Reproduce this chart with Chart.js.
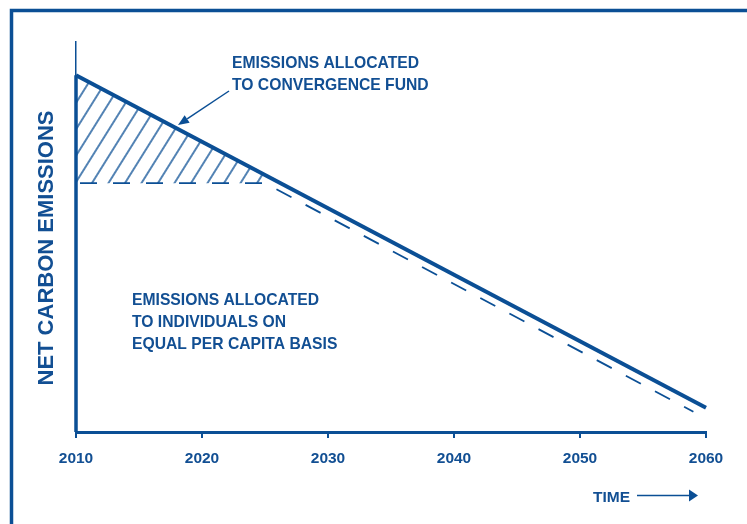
<!DOCTYPE html>
<html><head><meta charset="utf-8">
<script src="https://cdn.jsdelivr.net/npm/chart.js@4"></script>
<style>html,body{margin:0;padding:0;background:#fff;overflow:hidden}#wrap{width:747px;height:524px;position:relative}</style>
</head><body><div id="wrap"><canvas id="c" width="747" height="524"></canvas></div>
<script>
// ---- data ----
const tickYears = [2010, 2020, 2030, 2040, 2050, 2060];
const tickLabels = ['2010', '2020', '2030', '2040', '2050', '2060'];
const totalYears = [2010, 2060];
const totalEmissions = [91.5, 6.2];
const perCapitaYears = [2010, 2025, 2059];
const perCapitaEmissions = [63.8, 63.8, 5.2];
const fundYears = [2010, 2025];
const fundEmissions = [91.5, 65.9];
const fundFloor = 63.8;
const axisYears = [2010, 2010];
const axisEmissions = [0, 91.5];
const axisTitle = 'NET CARBON EMISSIONS';
const fundLabel = ['EMISSIONS ALLOCATED', 'TO CONVERGENCE FUND'];
const individualLabel = ['EMISSIONS ALLOCATED', 'TO INDIVIDUALS ON', 'EQUAL PER CAPITA BASIS'];
const timeLabel = 'TIME';

const BLUE = '#0b4f95';
const TEXT = '#124f93';
const FONT = '"Liberation Sans", Arial, Helvetica, sans-serif';

function pts(xs, ys) { return xs.map((x, i) => ({ x: x, y: ys[i] })); }

// hatch pattern: vertical stripes rotated into "/" lines
const tile = document.createElement('canvas');
tile.width = 14; tile.height = 4;
const tc = tile.getContext('2d');
tc.fillStyle = BLUE;
tc.fillRect(6.3, 0, 1.4, 4);
const hatch = tc.createPattern(tile, 'repeat');
hatch.setTransform(new DOMMatrix().rotateSelf(0, 0, 32));

const decor = {
  id: 'decor',
  beforeDraw(chart) {
    const ctx = chart.ctx;
    ctx.save();
    ctx.fillStyle = '#fff';
    ctx.fillRect(0, 0, chart.width, chart.height);
    ctx.strokeStyle = BLUE; ctx.lineWidth = 3.5;
    ctx.strokeRect(11.5, 10.5, 900, 700);
    ctx.restore();
  },
  afterDraw(chart) {
    const ctx = chart.ctx;
    ctx.save();
    ctx.fillStyle = TEXT;
    ctx.textBaseline = 'alphabetic';
    ctx.textAlign = 'left';
    ctx.font = 'bold 15.7px ' + FONT;
    ctx.fillText(fundLabel[0], 232, 68);
    ctx.fillText(fundLabel[1], 232, 90);
    ctx.fillText(individualLabel[0], 132, 305);
    ctx.fillText(individualLabel[1], 132, 327);
    ctx.fillText(individualLabel[2], 132, 349);
    ctx.font = 'bold 15.5px ' + FONT;
    ctx.fillText(timeLabel, 593, 502);
    // y title
    ctx.save();
    ctx.translate(53, 248);
    ctx.rotate(-Math.PI / 2);
    ctx.textAlign = 'center';
    ctx.font = 'bold 22px ' + FONT;
    ctx.fillText(axisTitle, 0, 0);
    ctx.restore();
    // arrows
    ctx.strokeStyle = BLUE; ctx.fillStyle = BLUE; ctx.lineWidth = 1.5;
    // time arrow
    ctx.beginPath(); ctx.moveTo(637, 495.5); ctx.lineTo(691, 495.5); ctx.stroke();
    ctx.beginPath(); ctx.moveTo(698, 495.5); ctx.lineTo(689, 489.5); ctx.lineTo(689, 501.5); ctx.closePath(); ctx.fill();
    // convergence arrow
    const x0 = 229, y0 = 91, x1 = 178, y1 = 125;
    const ang = Math.atan2(y1 - y0, x1 - x0);
    const L = 11, W = 4.5;
    const bx = x1 - L * Math.cos(ang), by = y1 - L * Math.sin(ang);
    ctx.beginPath(); ctx.moveTo(x0, y0); ctx.lineTo(bx, by); ctx.stroke();
    ctx.beginPath();
    ctx.moveTo(x1, y1);
    ctx.lineTo(bx + W * Math.sin(ang), by - W * Math.cos(ang));
    ctx.lineTo(bx - W * Math.sin(ang), by + W * Math.cos(ang));
    ctx.closePath(); ctx.fill();
    ctx.restore();
  }
};

new Chart(document.getElementById('c'), {
  type: 'line',
  data: {
    datasets: [
      { data: pts(fundYears, fundEmissions), borderWidth: 0, pointRadius: 0,
        backgroundColor: hatch, fill: { value: fundFloor }, order: 4 },
      { data: pts(perCapitaYears, perCapitaEmissions), borderColor: BLUE, borderWidth: 1.8,
        borderDash: [17, 16], borderDashOffset: 29, pointRadius: 0, fill: false, order: 3, clip: false },
      { data: pts(axisYears, axisEmissions), borderColor: BLUE, borderWidth: 3.5,
        pointRadius: 0, fill: false, order: 2, clip: false },
      { data: pts(totalYears, totalEmissions), borderColor: BLUE, borderWidth: 4,
        pointRadius: 0, fill: false, order: 1, clip: false, borderCapStyle: 'butt' }
    ]
  },
  options: {
    responsive: false,
    animation: false,
    devicePixelRatio: 1,
    layout: { padding: { left: 0, right: 41, top: 42, bottom: 0 } },
    plugins: { legend: { display: false }, tooltip: { enabled: false } },
    scales: {
      x: {
        type: 'linear', min: 2010, max: 2060,
        afterBuildTicks(s) { s.ticks = tickYears.map(v => ({ value: v })); },
        afterFit(s) { s.height = 92; },
        border: { display: true, color: BLUE, width: 3 },
        grid: { display: true, drawOnChartArea: false, drawTicks: true, tickLength: 6, color: BLUE, lineWidth: 2 },
        ticks: {
          color: TEXT, padding: 11, maxRotation: 0, autoSkip: false,
          font: { family: FONT, weight: 'bold', size: 15.5 },
          callback(v) { const i = tickYears.indexOf(v); return i >= 0 ? tickLabels[i] : ''; }
        }
      },
      y: {
        type: 'linear', min: 0, max: 100,
        afterFit(s) { s.width = 76; },
        border: { display: true, color: BLUE, width: 1.5 },
        grid: { display: false },
        ticks: { display: false }
      }
    }
  },
  plugins: [decor]
});
</script>
</body></html>
